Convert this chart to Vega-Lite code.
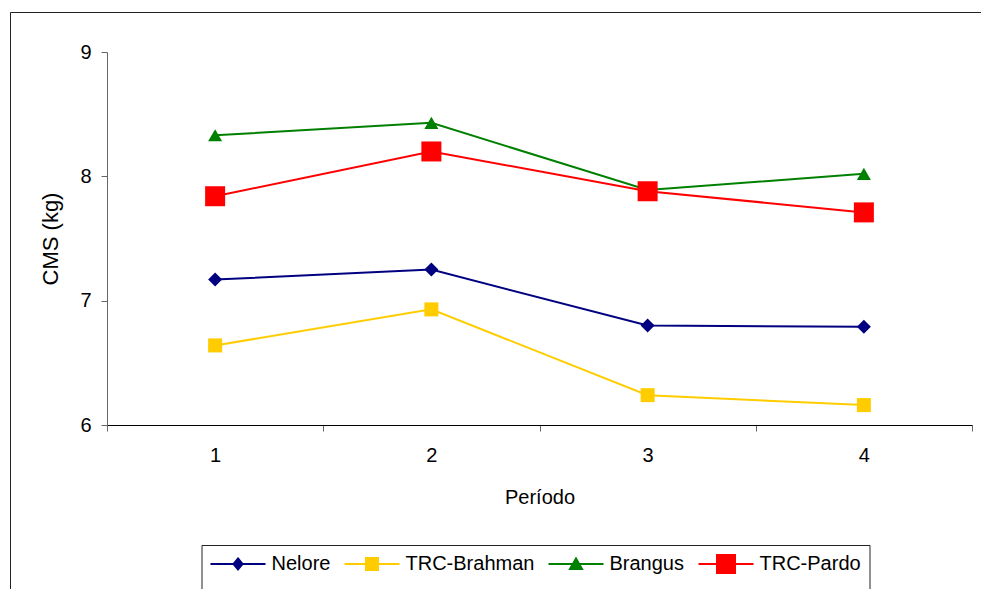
{
  "$schema": "https://vega.github.io/schema/vega-lite/v6.json",
  "width": 971,
  "height": 577,
  "autosize": {"type": "none"},
  "padding": {"left": 10, "top": 12, "right": 0, "bottom": 0},
  "background": "white",
  "config": {
    "view": {"stroke": "#222", "strokeWidth": 1, "strokeDash": [971, 1548, 577]},
    "font": "Liberation Sans",
    "axis": {
      "grid": false,
      "labelFont": "Liberation Sans",
      "titleFont": "Liberation Sans",
      "labelColor": "#000",
      "titleColor": "#000",
      "titleFontWeight": "normal",
      "labelFontSize": 20,
      "titleFontSize": 20,
      "tickColor": "#666",
      "tickSize": 6,
      "domainColor": "#000"
    },
    "legend": {
      "orient": "none",
      "legendX": 191.5,
      "legendY": 533,
      "direction": "horizontal",
      "strokeColor": "#222",
      "padding": 8,
      "symbolSize": 400,
      "symbolOffset": 17.5,
      "symbolOpacity": 1,
      "symbolStrokeWidth": 2,
      "labelOffset": 22.5,
      "columnPadding": 10,
      "labelFont": "Liberation Sans",
      "labelFontSize": 20,
      "labelColor": "#000"
    }
  },
  "data": {
    "values": [
      {"serie": "Nelore", "periodo": "1", "cms": 7.17},
      {"serie": "Nelore", "periodo": "2", "cms": 7.25},
      {"serie": "Nelore", "periodo": "3", "cms": 6.80},
      {"serie": "Nelore", "periodo": "4", "cms": 6.79},
      {"serie": "TRC-Brahman", "periodo": "1", "cms": 6.64},
      {"serie": "TRC-Brahman", "periodo": "2", "cms": 6.93},
      {"serie": "TRC-Brahman", "periodo": "3", "cms": 6.24},
      {"serie": "TRC-Brahman", "periodo": "4", "cms": 6.16},
      {"serie": "Brangus", "periodo": "1", "cms": 8.33},
      {"serie": "Brangus", "periodo": "2", "cms": 8.43},
      {"serie": "Brangus", "periodo": "3", "cms": 7.89},
      {"serie": "Brangus", "periodo": "4", "cms": 8.02},
      {"serie": "TRC-Pardo", "periodo": "1", "cms": 7.84},
      {"serie": "TRC-Pardo", "periodo": "2", "cms": 8.20},
      {"serie": "TRC-Pardo", "periodo": "3", "cms": 7.88},
      {"serie": "TRC-Pardo", "periodo": "4", "cms": 7.71}
    ]
  },
  "encoding": {
    "x": {
      "field": "periodo",
      "type": "ordinal",
      "scale": {"type": "band", "paddingInner": 0, "paddingOuter": 0, "range": [97, 962]},
      "axis": {
        "title": "Período",
        "labelAngle": 0,
        "offset": -164,
        "tickBand": "extent",
        "labelPadding": 14,
        "titlePadding": 22,
        "domainColor": "#000"
      }
    },
    "y": {
      "field": "cms",
      "type": "quantitative",
      "scale": {"domain": [6, 9], "range": [413, 40], "nice": false, "zero": false},
      "axis": {
        "title": "CMS (kg)",
        "offset": -97,
        "values": [6, 7, 8, 9],
        "labelPadding": 10,
        "titlePadding": 17,
        "titleFontSize": 22,
        "domainColor": "#666"
      }
    },
    "color": {
      "field": "serie",
      "type": "nominal",
      "scale": {
        "domain": ["Nelore", "TRC-Brahman", "Brangus", "TRC-Pardo"],
        "range": ["#000080", "#FFCC00", "#008000", "#FF0000"]
      },
      "legend": {"title": null}
    }
  },
  "layer": [
    {"mark": {"type": "line", "strokeWidth": 2}},
    {
      "mark": {"type": "point", "filled": true, "opacity": 1, "strokeWidth": 0},
      "encoding": {
        "shape": {
          "condition": [
            {"test": "datum.serie === 'Nelore'", "value": "diamond"},
            {"test": "datum.serie === 'Brangus'", "value": "triangle-up"}
          ],
          "value": "square"
        },
        "size": {
          "condition": {"test": "datum.serie === 'TRC-Pardo'", "value": 400},
          "value": 196
        }
      }
    },
    {
      "mark": {"type": "point", "filled": true, "opacity": 0},
      "encoding": {
        "shape": {
          "field": "serie",
          "type": "nominal",
          "scale": {
            "domain": ["Nelore", "TRC-Brahman", "Brangus", "TRC-Pardo"],
            "range": [
              "M-2.75,0H2.75M0,-0.55L0.45,0L0,0.55L-0.45,0ZM0,2.6L0,2.6",
              "M-2.75,0H2.75M-0.6,-0.6H0.6V0.6H-0.6ZM0,2.6L0,2.6",
              "M-2.75,0H2.75M0,-0.55L0.6,0.5L-0.6,0.5ZM0,2.6L0,2.6",
              "M-2.75,0H2.75M-0.9,-0.9H0.9V0.9H-0.9ZM0,2.6L0,2.6"
            ]
          },
          "legend": {"title": null}
        },
        "stroke": {
          "field": "serie",
          "type": "nominal",
          "scale": {
            "domain": ["Nelore", "TRC-Brahman", "Brangus", "TRC-Pardo"],
            "range": ["#000080", "#FFCC00", "#008000", "#FF0000"]
          },
          "legend": {"title": null}
        }
      }
    }
  ]
}
